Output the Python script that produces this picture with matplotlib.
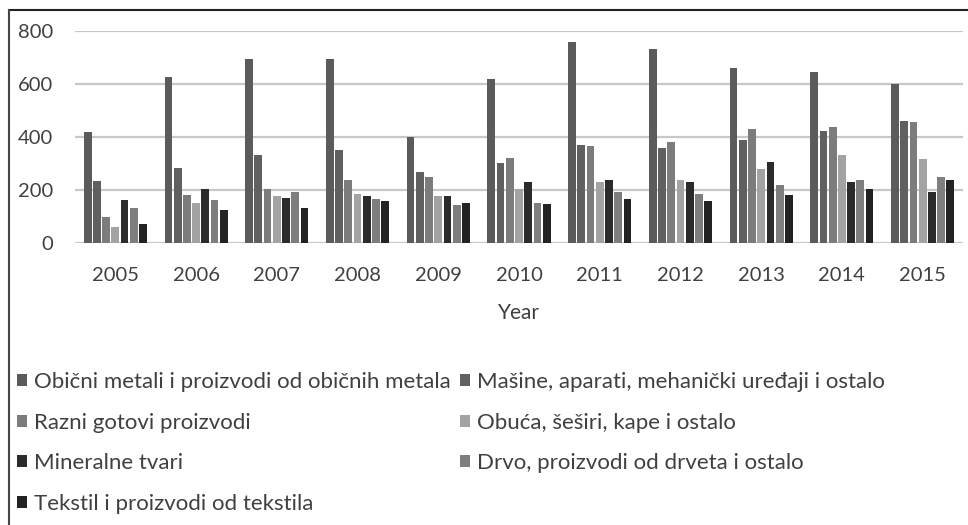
import matplotlib
matplotlib.use("Agg")
import matplotlib.pyplot as plt
import numpy as np
from matplotlib.patches import Patch
from matplotlib.lines import Line2D

years = ["2005", "2006", "2007", "2008", "2009", "2010", "2011", "2012", "2013", "2014", "2015"]
series_names = [
    "Obični metali i proizvodi od običnih metala",
    "Mašine, aparati, mehanički uređaji i ostalo",
    "Razni gotovi proizvodi",
    "Obuća, šeširi, kape i ostalo",
    "Mineralne tvari",
    "Drvo, proizvodi od drveta i ostalo",
    "Tekstil i proizvodi od tekstila",
]
obicni_metali = [417, 625, 692, 692, 400, 620, 756, 730, 658, 644, 601]
masine = [235, 283, 331, 351, 269, 302, 370, 360, 388, 423, 462]
razni = [100, 183, 205, 239, 250, 322, 365, 383, 429, 437, 456]
obuca = [61, 150, 177, 187, 177, 205, 229, 239, 278, 331, 316]
mineralne = [163, 205, 171, 177, 177, 229, 239, 229, 307, 229, 192]
drvo = [134, 163, 192, 168, 143, 153, 192, 187, 220, 239, 249]
tekstil = [71, 124, 134, 158, 153, 148, 168, 158, 182, 205, 239]
all_series = [obicni_metali, masine, razni, obuca, mineralne, drvo, tekstil]
colors = ["#5b5b5b", "#606060", "#7c7c7c", "#a3a3a3", "#2b2b2b", "#7e7e7e", "#232323"]

plt.rcParams['font.family'] = ['Lato', 'DejaVu Sans']
text_color = "#404040"

fig = plt.figure(figsize=(9.68, 5.25), dpi=100)
W, H = 968, 525
ax = fig.add_axes([75 / W, 1 - 243.3 / H, (963 - 75) / W, (243.3 - 30.7) / H])

x = np.arange(len(years))
n = len(all_series)
slot = 0.8 / n
for i, (vals, c) in enumerate(zip(all_series, colors)):
    ax.bar(x - 0.4 + slot * (i + 0.5), vals, width=slot * 0.84, color=c, zorder=3)

ax.set_xlim(-0.5, len(years) - 0.5)
ax.set_ylim(0, 800)
ax.set_yticks([0, 200, 400, 600, 800])
ax.set_xticks(x)
ax.set_xticklabels(years)
ax.grid(axis='y', color="#c8c8c8", linewidth=1.6, zorder=0)
ax.set_axisbelow(True)
for s in ax.spines.values():
    s.set_visible(False)
ax.tick_params(axis='both', length=0, labelsize=14.5, colors=text_color)
ax.tick_params(axis='y', pad=16)
ax.tick_params(axis='x', pad=17)
ax.set_xlabel("Year", fontsize=15, color=text_color, labelpad=14)

order = [0, 2, 4, 6, 1, 3, 5]
handles = [Patch(facecolor=colors[k], edgecolor='none') for k in order]
labels = [series_names[k] for k in order]
fig.legend(handles, labels, ncol=2, loc='upper left', bbox_to_anchor=(17 / W, 1 - 372 / H),
           frameon=False, fontsize=16, handlelength=0.45, handleheight=0.45,
           handletextpad=0.3, labelspacing=0.93, columnspacing=0.45, labelcolor=text_color,
           borderpad=0, borderaxespad=0)

# chart frame (cropped border)
fig.add_artist(Line2D([9 / W, 1], [1 - 10 / H, 1 - 10 / H], color="#222222", linewidth=1.5))
fig.add_artist(Line2D([9 / W, 9 / W], [0, 1 - 10 / H], color="#444444", linewidth=1.5))

fig.savefig("out.png", dpi=100)
